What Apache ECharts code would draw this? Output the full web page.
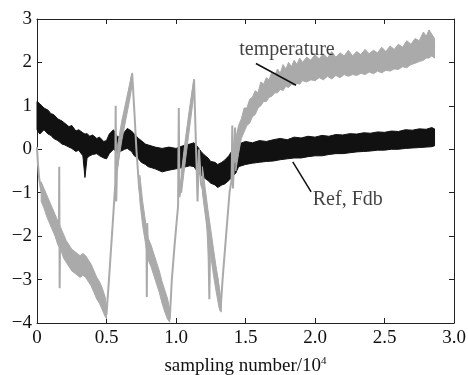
<!DOCTYPE html>
<html>
<head>
<meta charset="utf-8">
<script src="https://cdn.jsdelivr.net/npm/echarts@6/dist/echarts.min.js"></script>
<style>html,body{margin:0;padding:0;background:#fff;}#c{width:468px;height:375px;}</style>
</head>
<body>
<div id="c"></div>
<script>
// ---- axis ticks ----
var xTicks = [0, 0.5, 1.0, 1.5, 2.0, 2.5, 3.0];
var yTicks = [-4, -3, -2, -1, 0, 1, 2, 3];

// ---- Ref, Fdb (black noisy band: lower / upper envelope) ----
var refX  = [0,0.02,0.05,0.08,0.10,0.12,0.15,0.18,0.20,0.23,0.25,0.28,0.30,0.33,0.345,0.36,0.38,0.40,0.43,0.45,0.48,0.50,0.52,0.55,0.58,0.60,0.63,0.65,0.68,0.70,0.73,0.75,0.78,0.80,0.85,0.90,0.95,1.00,1.05,1.10,1.13,1.15,1.18,1.20,1.23,1.25,1.28,1.30,1.33,1.35,1.38,1.40,1.43,1.45,1.50,1.55,1.60,1.65,1.70,1.75,1.80,1.85,1.90,1.95,2.00,2.05,2.10,2.15,2.20,2.25,2.30,2.35,2.40,2.45,2.50,2.55,2.60,2.65,2.70,2.75,2.80,2.84,2.86];
var refHi = [1.1,1.05,0.95,0.9,0.82,0.8,0.7,0.65,0.6,0.52,0.55,0.42,0.45,0.38,0.35,0.36,0.3,0.33,0.25,0.28,0.18,0.2,0.35,0.45,0.28,0.3,0.4,0.48,0.42,0.35,0.25,0.2,0.12,0.1,0.05,0.02,0.05,0.02,0.08,0.12,0.15,0.08,-0.05,-0.12,-0.2,-0.28,-0.3,-0.35,-0.3,-0.25,-0.15,-0.05,0.05,0.12,0.18,0.15,0.2,0.18,0.22,0.25,0.22,0.28,0.26,0.3,0.28,0.32,0.3,0.34,0.33,0.36,0.35,0.38,0.37,0.4,0.39,0.42,0.41,0.45,0.44,0.47,0.46,0.5,0.47];
var refLo = [0.45,0.35,0.45,0.35,0.32,0.25,0.2,0.12,0.1,0.05,0.02,-0.05,-0.02,-0.15,-0.65,-0.2,-0.15,-0.12,-0.1,-0.15,-0.2,-0.22,-0.1,0.0,-0.08,-0.05,0.0,0.02,-0.05,-0.15,-0.22,-0.3,-0.35,-0.4,-0.45,-0.52,-0.48,-0.45,-0.42,-0.38,-0.4,-0.5,-0.6,-0.65,-0.72,-0.78,-0.82,-0.88,-0.82,-0.8,-0.72,-0.65,-0.55,-0.4,-0.35,-0.32,-0.3,-0.28,-0.27,-0.24,-0.22,-0.2,-0.2,-0.17,-0.15,-0.15,-0.12,-0.1,-0.1,-0.08,-0.06,-0.05,-0.04,-0.02,-0.02,0.0,0.0,0.02,0.03,0.04,0.05,0.06,0.08];

// ---- temperature (gray): main trace ----
var tempX = [0,0.006,0.015,0.03,0.06,0.09,0.12,0.15,0.158,0.16,0.163,0.166,0.18,0.21,0.24,0.27,0.30,0.33,0.36,0.39,0.42,0.45,0.48,0.50,0.52,0.545,0.563,0.566,0.57,0.575,0.60,0.63,0.66,0.685,0.70,0.715,0.735,0.76,0.788,0.79,0.793,0.797,0.82,0.85,0.88,0.91,0.935,0.955,0.97,0.99,1.015,1.02,1.025,1.04,1.07,1.10,1.13,1.15,1.155,1.165,1.18,1.20,1.225,1.235,1.24,1.245,1.27,1.30,1.32,1.335,1.36,1.385,1.40,1.405,1.41,1.425,1.43,1.46,1.49,1.52,1.55,1.60,1.65,1.70,1.75,1.80,1.90,2.00,2.10,2.20,2.30,2.40,2.50,2.60,2.70,2.75,2.80,2.84,2.86];
var tempY = [0.05,-0.3,-0.65,-0.95,-1.2,-1.45,-1.7,-1.95,-2.0,-0.4,-3.2,-2.05,-2.15,-2.35,-2.5,-2.6,-2.65,-2.65,-2.7,-2.9,-3.1,-3.3,-3.55,-3.8,-2.9,-1.7,-0.8,1.0,-1.2,-0.5,0.2,0.8,1.3,1.74,0.9,0.0,-0.9,-1.5,-2.15,-3.4,-1.7,-2.3,-2.45,-2.75,-3.05,-3.35,-3.65,-3.92,-3.0,-2.2,-1.3,0.95,-1.1,-0.7,0.1,0.85,1.6,-0.6,-1.2,0.0,-0.8,-1.0,-1.7,-2.5,-3.45,-2.2,-2.5,-3.0,-3.72,-3.0,-2.0,-1.0,-0.7,0.55,-0.9,0.5,-0.3,0.3,0.6,0.8,0.95,1.2,1.38,1.5,1.6,1.68,1.78,1.85,1.9,1.93,1.96,1.98,2.03,2.1,2.2,2.28,2.35,2.42,2.35];

// ---- temperature noisy envelopes (noisy stretches) ----
var tempAX  = [0.03,0.05,0.07,0.09,0.11,0.13,0.15,0.17,0.19,0.21,0.23,0.25,0.27,0.29,0.31,0.33,0.35,0.37,0.39,0.41,0.43,0.45,0.47,0.49,0.50];
var tempALo = [-1.2,-1.35,-1.55,-1.7,-1.85,-2.0,-2.2,-2.3,-2.5,-2.6,-2.7,-2.8,-2.85,-2.9,-2.95,-2.9,-2.95,-3.05,-3.15,-3.3,-3.45,-3.55,-3.7,-3.85,-3.9];
var tempAHi = [-0.75,-0.9,-1.05,-1.2,-1.35,-1.5,-1.65,-1.8,-1.95,-2.1,-2.2,-2.3,-2.35,-2.4,-2.45,-2.4,-2.45,-2.55,-2.65,-2.8,-2.95,-3.05,-3.2,-3.4,-3.6];
var tempBX  = [0.58,0.61,0.64,0.67,0.685];
var tempBLo = [-0.4,0.2,0.7,1.2,1.5];
var tempBHi = [0.1,0.65,1.1,1.55,1.76];
var tempCX  = [0.74,0.76,0.78,0.80,0.82,0.84,0.86,0.88,0.90,0.92,0.94,0.955];
var tempCLo = [-1.2,-1.75,-2.15,-2.55,-2.7,-2.9,-3.1,-3.3,-3.55,-3.75,-3.92,-3.98];
var tempCHi = [-0.6,-1.2,-1.65,-2.05,-2.2,-2.4,-2.6,-2.8,-3.05,-3.25,-3.45,-3.7];
var tempDX  = [1.04,1.07,1.10,1.13];
var tempDLo = [-1.0,-0.2,0.55,1.3];
var tempDHi = [-0.5,0.3,1.0,1.62];
var tempEX  = [1.19,1.21,1.23,1.25,1.27,1.29,1.31,1.325];
var tempELo = [-1.0,-1.5,-2.0,-2.45,-2.9,-3.3,-3.65,-3.75];
var tempEHi = [-0.4,-0.9,-1.4,-1.85,-2.3,-2.75,-3.15,-3.5];
var tempFX  = [1.43,1.45,1.47,1.49,1.51,1.53,1.55,1.57,1.59,1.61,1.63,1.65,1.67,1.69,1.71,1.73,1.75,1.77,1.79,1.81,1.83,1.85,1.87,1.89,1.91,1.94,1.97,2.00,2.03,2.06,2.09,2.12,2.15,2.18,2.21,2.24,2.27,2.30,2.33,2.36,2.39,2.42,2.45,2.48,2.51,2.54,2.57,2.60,2.63,2.66,2.69,2.72,2.75,2.78,2.80,2.82,2.84,2.86];
var tempFHi = [0.25,0.55,0.7,0.95,0.95,1.15,1.2,1.35,1.3,1.55,1.5,1.65,1.6,1.78,1.7,1.85,1.75,1.95,1.85,2.0,1.9,2.05,1.95,2.1,2.0,2.12,2.05,2.18,2.08,2.2,2.1,2.25,2.12,2.22,2.15,2.28,2.15,2.25,2.18,2.3,2.2,2.28,2.22,2.35,2.25,2.38,2.3,2.42,2.35,2.5,2.42,2.55,2.5,2.7,2.6,2.75,2.65,2.55];
var tempFLo = [-0.5,-0.1,0.25,0.4,0.55,0.6,0.75,0.8,0.95,1.0,1.1,1.1,1.2,1.22,1.3,1.3,1.38,1.35,1.45,1.42,1.5,1.48,1.52,1.5,1.58,1.55,1.6,1.58,1.65,1.6,1.68,1.62,1.7,1.65,1.72,1.68,1.72,1.7,1.75,1.72,1.78,1.74,1.8,1.76,1.82,1.8,1.85,1.84,1.9,1.88,1.95,1.98,2.02,2.05,2.1,2.1,2.15,2.1];

// ---- annotations ----
var annoText = ['temperature', 'Ref, Fdb'];
var annoTextPos = [[1.455, 2.30], [1.984, -1.17]];
var annoLineFrom = [[1.575, 1.975], [1.84, -0.29]];
var annoLineTo = [[1.864, 1.475], [1.972, -0.98]];

var BLACK = '#111111', GRAY = '#aaaaaa', FONT = 'Liberation Serif';

function zip(xs, ys) { return xs.map(function (x, i) { return [x, ys[i]]; }); }
// noisy band drawn as a polygon between the lower and upper envelopes, through the axes' scales
function band(name, xs, lo, hi, color, z) {
  return {
    name: name, type: 'custom', coordinateSystem: 'cartesian2d', silent: true, z: z,
    data: [[xs[0], lo[0]]],
    renderItem: function (params, api) {
      var pts = [], i;
      for (i = 0; i < xs.length; i++) pts.push(api.coord([xs[i], hi[i]]));
      for (i = xs.length - 1; i >= 0; i--) pts.push(api.coord([xs[i], lo[i]]));
      return { type: 'polygon', shape: { points: pts },
        style: { fill: color, stroke: color, lineWidth: 1 } };
    }
  };
}

var series = [
  band('Ref, Fdb', refX, refLo, refHi, BLACK, 2),
  band('tA', tempAX, tempALo, tempAHi, GRAY, 3),
  band('tB', tempBX, tempBLo, tempBHi, GRAY, 3),
  band('tC', tempCX, tempCLo, tempCHi, GRAY, 3),
  band('tD', tempDX, tempDLo, tempDHi, GRAY, 3),
  band('tE', tempEX, tempELo, tempEHi, GRAY, 3),
  band('tF', tempFX, tempFLo, tempFHi, GRAY, 3),
  { name: 'temperature', type: 'line', data: zip(tempX, tempY), symbol: 'none', z: 4,
    lineStyle: { color: GRAY, width: 2 } },
  { name: 'anno', type: 'line', data: [], z: 6,
    markLine: { silent: true, symbol: ['none', 'none'], label: { show: false },
      lineStyle: { color: BLACK, width: 1.5, type: 'solid' },
      data: annoLineFrom.map(function (p, i) { return [{ coord: p }, { coord: annoLineTo[i] }]; }) } },
  { name: 'labels', type: 'scatter', symbolSize: 0, z: 6,
    data: annoTextPos.map(function (p, i) { return { value: [p[0], p[1]], name: annoText[i] }; }),
    label: { show: true, position: 'right', distance: 0, formatter: '{b}',
      color: BLACK, fontFamily: FONT, fontSize: 20 } }
];

var axisCommon = {
  axisLine: { show: true, onZero: false, lineStyle: { color: '#222', width: 1 } },
  axisTick: { show: true, inside: true, length: 5, lineStyle: { color: '#222' } },
  splitLine: { show: false }
};
var tickFont = { fontFamily: FONT, fontSize: 19, color: BLACK, fontWeight: 'normal' };

var chart = echarts.init(document.getElementById('c'), null, { renderer: 'canvas' });
chart.setOption({
  animation: false,
  backgroundColor: '#ffffff',
  textStyle: { fontFamily: FONT },
  grid: { left: 37, right: 14, top: 19, bottom: 52, containLabel: false, outerBoundsMode: 'none' },
  xAxis: [
    Object.assign({ type: 'value', min: xTicks[0], max: xTicks[xTicks.length - 1], interval: 0.5,
      position: 'bottom',
      name: 'sampling number/10{sup|4}', nameLocation: 'middle', nameGap: 33,
      nameTextStyle: { fontFamily: FONT, fontSize: 19, color: BLACK,
        rich: { sup: { fontFamily: FONT, fontSize: 11, color: BLACK, verticalAlign: 'top', padding: [0, 0, 10, 0] } } },
      axisLabel: Object.assign({ margin: 6,
        formatter: function (v) { return v === 0 ? '0' : v.toFixed(1); } }, tickFont) }, axisCommon),
    Object.assign({ type: 'value', min: xTicks[0], max: xTicks[xTicks.length - 1], interval: 0.5,
      position: 'top', axisLabel: { show: false } }, axisCommon)
  ],
  yAxis: [
    Object.assign({ type: 'value', min: yTicks[0], max: yTicks[yTicks.length - 1], interval: 1,
      position: 'left',
      axisLabel: Object.assign({ margin: 5,
        formatter: function (v) { return String(v).replace('-', '\u2212'); } }, tickFont) }, axisCommon),
    Object.assign({ type: 'value', min: yTicks[0], max: yTicks[yTicks.length - 1], interval: 1,
      position: 'right', axisLabel: { show: false } }, axisCommon)
  ],
  series: series
});
</script>
</body>
</html>
